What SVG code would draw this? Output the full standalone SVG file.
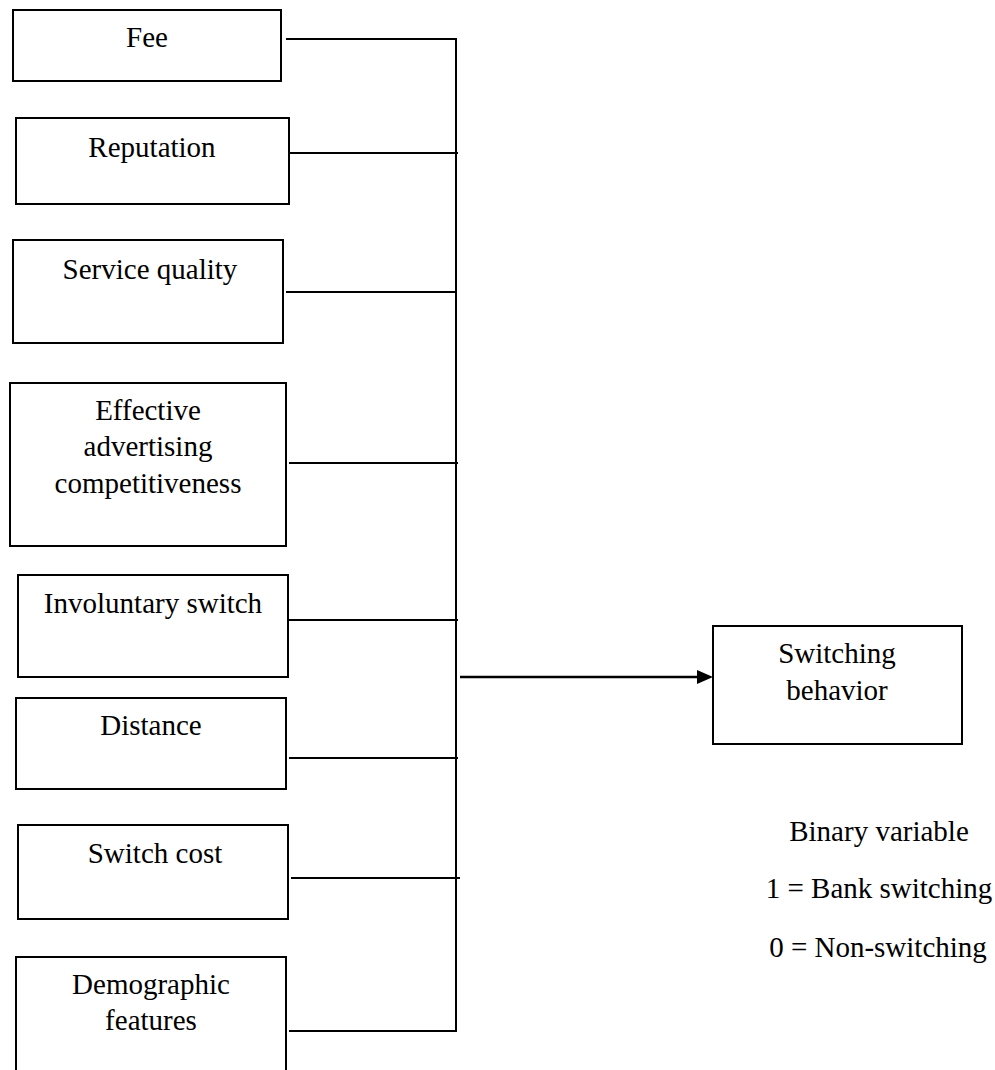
<svg xmlns="http://www.w3.org/2000/svg" width="995" height="1070" viewBox="0 0 995 1070">
<style>
.box{fill:#fff;stroke:#000;stroke-width:2}
.t{font-family:"Liberation Serif","Times New Roman",serif;font-size:29px;fill:#000;text-anchor:middle}
.c{stroke:#000;stroke-width:2;fill:none}
</style>
<rect width="995" height="1070" fill="#fff"/>
<g id="fee"><rect class="box" x="13" y="10" width="268" height="71"/><text class="t" x="147" y="47">Fee</text></g>
<g id="reputation"><rect class="box" x="16" y="118" width="273" height="86"/><text class="t" x="152" y="157">Reputation</text></g>
<g id="service-quality"><rect class="box" x="13" y="240" width="270" height="103"/><text class="t" x="150" y="279">Service quality</text></g>
<g id="effective-advertising"><rect class="box" x="10" y="383" width="276" height="163"/><text class="t" x="148" y="420">Effective</text><text class="t" x="148" y="456">advertising</text><text class="t" x="148" y="493">competitiveness</text></g>
<g id="involuntary-switch"><rect class="box" x="18" y="575" width="270" height="102"/><text class="t" x="153" y="613">Involuntary switch</text></g>
<g id="distance"><rect class="box" x="16" y="698" width="270" height="91"/><text class="t" x="151" y="735">Distance</text></g>
<g id="switch-cost"><rect class="box" x="18" y="825" width="270" height="94"/><text class="t" x="155" y="863">Switch cost</text></g>
<g id="demographic-features"><rect class="box" x="16" y="957" width="270" height="130"/><text class="t" x="151" y="994">Demographic</text><text class="t" x="151" y="1030">features</text></g>
<g id="switching-behavior"><rect class="box" x="713" y="626" width="249" height="118"/><text class="t" x="837" y="663">Switching</text><text class="t" x="837" y="700">behavior</text></g>
<g id="legend"><text class="t" x="879" y="841">Binary variable</text><text class="t" x="879" y="898">1 = Bank switching</text><text class="t" x="878" y="957">0 = Non-switching</text></g>
<g id="connectors">
<line class="c" x1="456" y1="38" x2="456" y2="1031"/>
<line class="c" x1="286" y1="39" x2="457" y2="39"/>
<line class="c" x1="290" y1="153" x2="458" y2="153"/>
<line class="c" x1="286" y1="292" x2="456" y2="292"/>
<line class="c" x1="289" y1="463" x2="458" y2="463"/>
<line class="c" x1="289" y1="620" x2="458" y2="620"/>
<line class="c" x1="289" y1="758" x2="458" y2="758"/>
<line class="c" x1="291" y1="878" x2="460" y2="878"/>
<line class="c" x1="289" y1="1031" x2="457" y2="1031"/>
<line x1="460" y1="677" x2="699" y2="677" stroke="#000" stroke-width="2.5"/>
<polygon points="697,670 713,677 697,684" fill="#000"/>
</g>
</svg>
